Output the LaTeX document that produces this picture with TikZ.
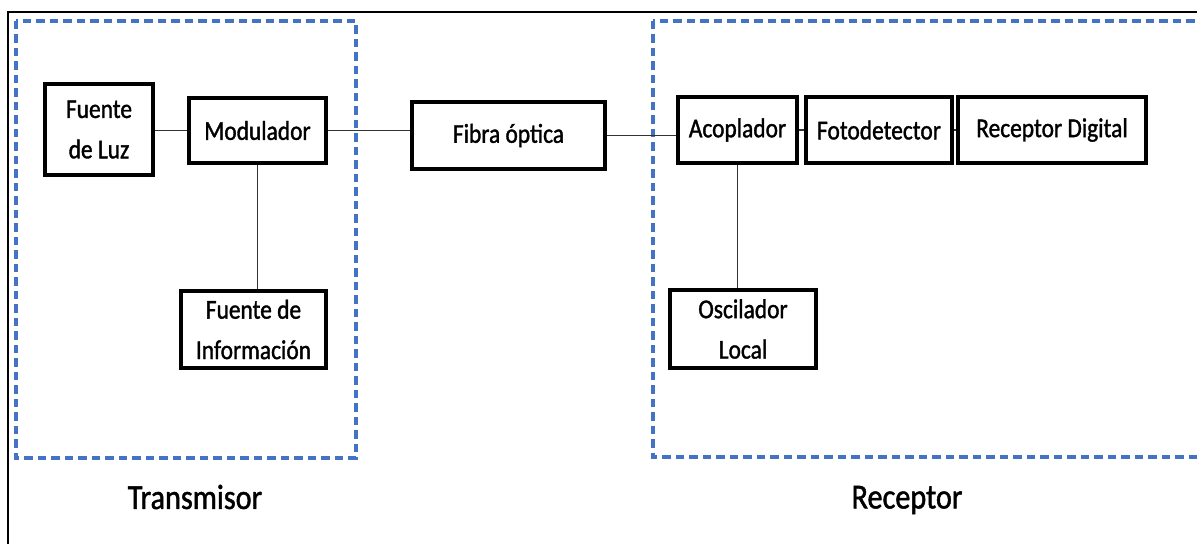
\documentclass[tikz,border=0pt]{standalone}
\usepackage{fontspec}
\setmainfont{Carlito}[FakeStretch=0.86,FakeBold=1.3]
\definecolor{grupo}{RGB}{68,114,196}
\tikzset{
  bloque/.style={draw,line width=2.6pt,align=center,inner sep=1pt,
    font=\fontsize{15.5}{23}\selectfont},
  enlace/.style={draw=black!80,line width=1pt},
  grupo/.style={draw=grupo,line width=2.2pt,dash pattern=on 0.17cm off 0.1cm},
  rotulo/.style={font=\fontsize{20}{24}\selectfont}
}
\begin{document}
\begin{tikzpicture}[x=0.02cm,y=-0.02cm]
\clip (0,0) rectangle (1197,544);
% marco exterior
\draw[line width=1.3pt] (8,560) -- (8,12) -- (1210,12);
% grupos
\draw[grupo] (16,21) rectangle (356,458);
\draw[grupo] (653,21) rectangle (1210,457);
% transmisor
\node[bloque,minimum width=2.16cm,minimum height=1.82cm] (luz) at (99,129.5) {Fuente\\de Luz};
\node[bloque,minimum width=2.74cm,minimum height=1.3cm] (mod) at (257.5,130.5) {Modulador};
\node[bloque,minimum width=2.9cm,minimum height=1.54cm] (info) at (253.5,329.5) {Fuente de\\Información};
% canal
\node[bloque,minimum width=3.86cm,minimum height=1.34cm] (fibra) at (508.5,135.5) {Fibra óptica};
% receptor
\node[bloque,minimum width=2.38cm,minimum height=1.32cm] (acop) at (737.5,130) {Acoplador};
\node[bloque,minimum width=2.92cm,minimum height=1.32cm] (foto) at (879,130) {Fotodetector};
\node[bloque,minimum width=3.76cm,minimum height=1.32cm] (rdig) at (1052,130) {Receptor Digital};
\node[bloque,minimum width=2.92cm,minimum height=1.56cm] (osc) at (743,329) {Oscilador\\Local};
% enlaces
\draw[enlace] (luz.east |- mod.west) -- (mod.west);
\draw[enlace] (mod.east) -- (mod.east -| fibra.west);
\draw[enlace] (fibra.east) -- (fibra.east -| acop.west);
\draw[enlace] (acop) -- (foto);
\draw[enlace] (foto) -- (rdig);
\draw[enlace] (mod.south) -- (mod.south |- info.north);
\draw[enlace] (acop.south) -- (acop.south |- osc.north);
% rotulos
\node[rotulo] (tx) at (195,497) {Transmisor};
\node[rotulo] (rx) at (907,500) {Receptor};
\end{tikzpicture}
\end{document}
